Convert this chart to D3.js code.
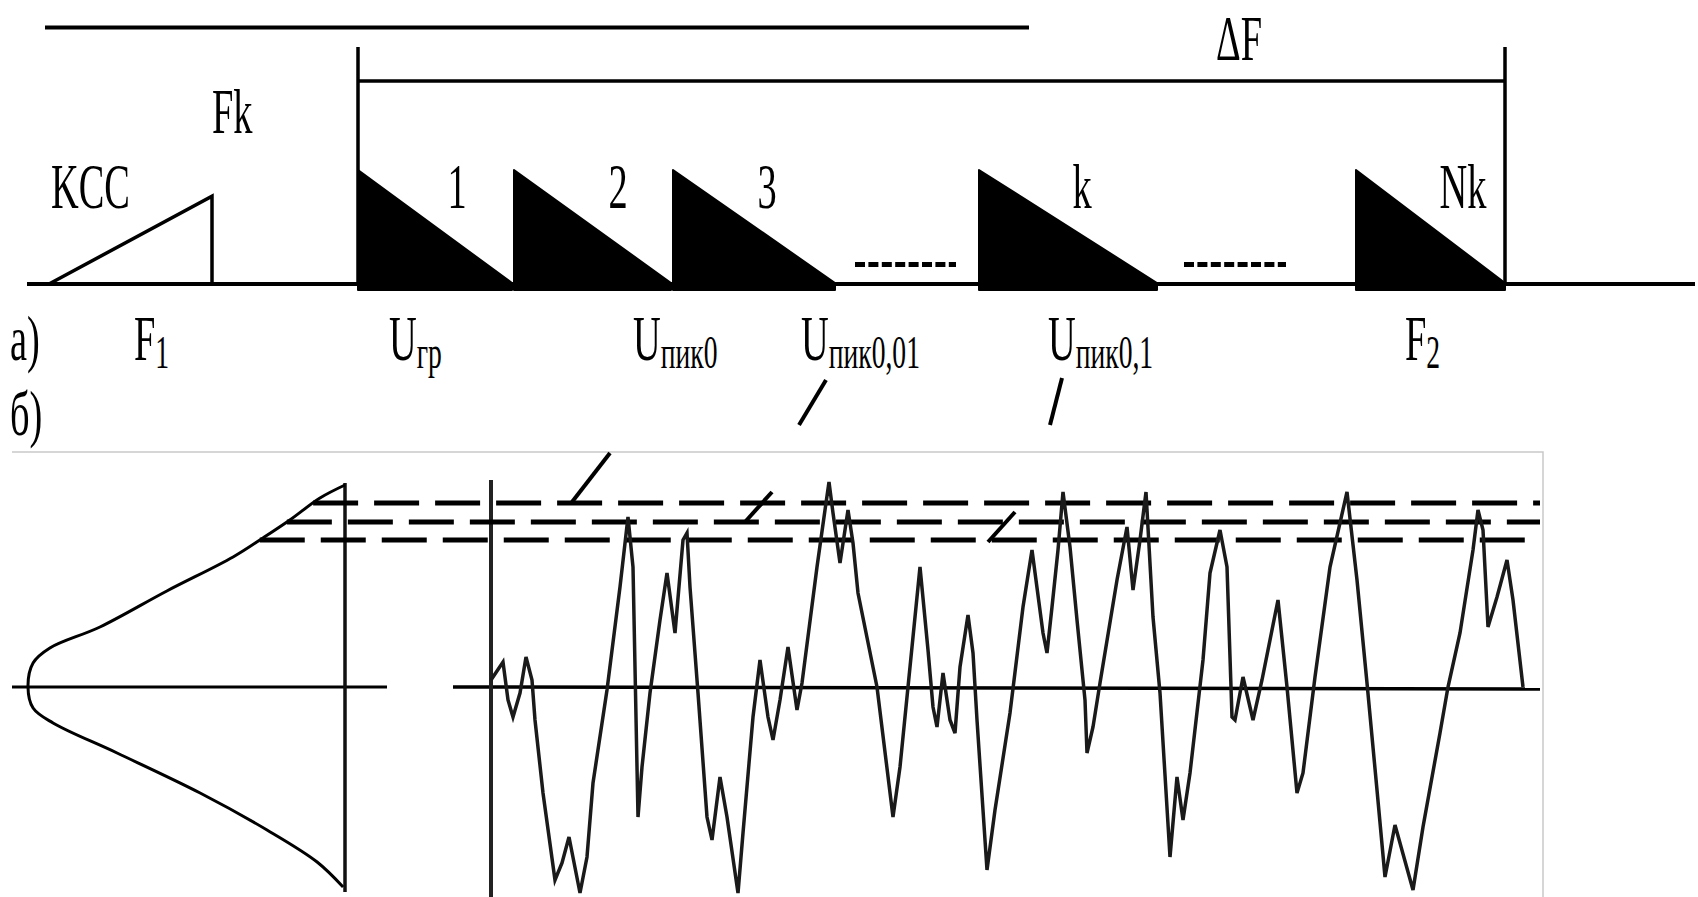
<!DOCTYPE html>
<html><head><meta charset="utf-8">
<script src="https://cdn.jsdelivr.net/npm/d3@7"></script>
<style>html,body{margin:0;padding:0;background:#fff;} svg{display:block;}</style>
</head><body>
<svg id="chart" width="1698" height="897"></svg>
<script>
// ================= DATA =================
// Panel a) : spectrum along the frequency axis (frequency units)
const freqSpan = [0, 1668];
const kccStart = 22, kccEnd = 185, kccLevel = 77;
const topLineSpan = [18, 1002], topLineLevel = 225;
const bandSpan = [331, 1478], bandTickLevel = 208, bandBarLevel = 178;
const channelNames = ["1", "2", "3", "k", "Nk"];
const channelStart = [331, 487, 646, 952, 1329];
const channelEnd   = [485, 644, 808, 1130, 1478];
const channelLevel = 100;
const gapDots = [[828, 929], [1157, 1259]];
const gapLevel = 17;
const rowMain = ["F", "U", "U", "U", "U", "F"];
const rowSub  = ["1", "гр", "пик0", "пик0,01", "пик0,1", "2"];

// Panel b) : random signal (time units, amplitude units)
const waveT = [0,12,17,22,29,35,41,44,52,64,71,78,89,96,102,116,129,137,142,146,147,151,159,169,176,184,192,196,199,207,216,221,229,236,247,252,262,269,277,282,289,297,306,311,326,334,338,342,349,357,362,367,386,402,409,419,429,437,442,446,452,459,464,469,477,482,486,496,504,519,532,541,552,556,561,567,572,579,586,594,596,602,609,626,636,642,649,655,662,669,679,686,692,699,712,719,729,736,741,744,752,762,771,787,796,806,812,824,839,856,866,876,886,894,904,922,932,949,957,969,982,987,992,997,1006,1016,1022,1032];
const waveV = [7,25,-13,-30,-6,30,7,-33,-106,-193,-176,-150,-206,-170,-96,-3,100,170,120,-80,-130,-80,-6,67,114,54,147,154,100,-6,-130,-153,-90,-130,-206,-146,-30,27,-30,-53,-13,40,-23,4,120,177,205,174,124,177,144,94,0,-130,-80,20,120,37,-20,-40,14,-33,-46,20,72,34,-33,-183,-123,-26,80,137,54,34,80,137,195,140,67,-13,-66,-40,4,107,160,97,147,195,70,-6,-170,-90,-133,-86,27,114,157,120,-30,-33,10,-33,7,87,0,-106,-86,10,120,195,107,4,-103,-190,-138,-203,-140,-46,0,54,137,177,157,60,90,127,87,0];
// Peak thresholds (amplitude units)
const thresholds = [184, 165, 147];
// Distribution curve on the left (probability, amplitude)
const distP = [0, 0.079, 0.174, 0.259, 0.353, 0.562, 0.773, 0.931, 0.984, 1.0, 0.984, 0.921, 0.719, 0.457, 0.246, 0.088, 0.006];
const distV = [202, 189, 167, 149, 130, 96, 60, 39, 24, 0, -21, -36, -66, -106, -143, -175, -200];
// Leader strokes (time, amplitude) pairs
const leaderFrom = [[335, 307], [571, 309], [119, 234], [281, 195], [524, 175]];
const leaderTo   = [[308, 262], [559, 262], [81, 185], [254, 165], [497, 145]];

// ================= DRAWING =================
const svg = d3.select("#chart");
svg.append("rect").attr("width", 1698).attr("height", 897).attr("fill", "#fff");

const FONT = "'Liberation Serif','Times New Roman',serif";
const SX = 0.6;

// ---- Panel a ----
const xF = d3.scaleLinear().domain(freqSpan).range([27, 1695]);
const yF = d3.scaleLinear().domain([0, 100]).range([284, 170]);
const gA = svg.append("g");

gA.append("line").attr("x1", xF(freqSpan[0])).attr("x2", xF(freqSpan[1]))
  .attr("y1", yF(0)).attr("y2", yF(0)).attr("stroke", "#000").attr("stroke-width", 4);
gA.append("line").attr("x1", xF(topLineSpan[0])).attr("x2", xF(topLineSpan[1]))
  .attr("y1", yF(topLineLevel)).attr("y2", yF(topLineLevel)).attr("stroke", "#000").attr("stroke-width", 4);

// bracket
gA.append("path").attr("fill", "none").attr("stroke", "#000").attr("stroke-width", 3.5)
  .attr("d", `M${xF(bandSpan[0])},${yF(bandTickLevel)}V${yF(0)}` +
             `M${xF(bandSpan[1])},${yF(bandTickLevel)}V${yF(0)}` +
             `M${xF(bandSpan[0])},${yF(bandBarLevel)}H${xF(bandSpan[1])}`);

// KCC triangle
gA.append("path").attr("fill", "none").attr("stroke", "#000").attr("stroke-width", 3.5)
  .attr("stroke-linejoin", "miter")
  .attr("d", `M${xF(kccStart)},${yF(0)}L${xF(kccEnd)},${yF(kccLevel)}V${yF(0)}`);

// channel triangles
channelStart.forEach((s, i) => {
  const e = channelEnd[i];
  gA.append("path").attr("fill", "#000").attr("stroke", "#000").attr("stroke-width", 2)
    .attr("stroke-linejoin", "round")
    .attr("d", `M${xF(s)},${yF(0) + 6}V${yF(channelLevel)}L${xF(e)},${yF(0) - 1}V${yF(0) + 6}Z`);
});

// gap dots
gapDots.forEach(([a, b]) => {
  gA.append("line").attr("x1", xF(a)).attr("x2", xF(b)).attr("y1", yF(gapLevel)).attr("y2", yF(gapLevel))
    .attr("stroke", "#000").attr("stroke-width", 5).attr("stroke-dasharray", "10,3.4");
});

function label(g, x, y, txt, anchor) {
  g.append("text").attr("transform", `translate(${x},${y}) scale(${SX},1)`)
    .attr("font-family", FONT).attr("font-size", 64).attr("text-anchor", anchor || "start")
    .attr("fill", "#000").text(txt);
}
label(gA, 1216, 60, "ΔF");
label(gA, 212, 133, "Fk");
label(gA, 51, 208, "KCC");
const chanLabelX = [457, 618, 767, 1082, 1463];
channelNames.forEach((n, i) => label(gA, chanLabelX[i], 208, n, "middle"));

label(gA, 10, 360, "a)");
label(gA, 10, 435, "б)");
const rowX = [134, 389, 633, 801, 1048, 1405];
rowMain.forEach((m, i) => {
  const t = gA.append("text").attr("transform", `translate(${rowX[i]},360) scale(${SX},1)`)
    .attr("font-family", FONT).attr("font-size", 64).attr("fill", "#000");
  t.append("tspan").text(m);
  t.append("tspan").attr("font-size", 46).attr("dy", 8).text(rowSub[i]);
});

// ---- Panel b ----
const xW = d3.scaleLinear().domain([0, 1040]).range([491, 1531]);
const yW = d3.scaleLinear().domain([-210, 210]).range([897, 477]);
const xL = d3.scaleLinear().domain([0, 1]).range([345, 28]);
const gB = svg.append("g");

// photo frame
gB.append("path").attr("fill", "none").attr("stroke", "#c9c9c9").attr("stroke-width", 1.5)
  .attr("d", "M12,452H1543V897");

// axes
gB.append("line").attr("x1", 12).attr("x2", 387).attr("y1", yW(0)).attr("y2", yW(0))
  .attr("stroke", "#000").attr("stroke-width", 3);
gB.append("line").attr("x1", 453).attr("x2", xW(1049)).attr("y1", yW(0)).attr("y2", yW(-2))
  .attr("stroke", "#000").attr("stroke-width", 3.5);
gB.append("line").attr("x1", xL(0)).attr("x2", xL(0)).attr("y1", yW(204)).attr("y2", yW(-205))
  .attr("stroke", "#111").attr("stroke-width", 3.5);
gB.append("line").attr("x1", xW(0)).attr("x2", xW(0)).attr("y1", yW(207)).attr("y2", yW(-210))
  .attr("stroke", "#222").attr("stroke-width", 4);

// distribution curve
const dist = distP.map((p, i) => [p, distV[i]]);
gB.append("path").datum(dist).attr("fill", "none").attr("stroke", "#000").attr("stroke-width", 3)
  .attr("d", d3.line().x(d => xL(d[0])).y(d => yW(d[1])).curve(d3.curveCatmullRom.alpha(0.5)));

// thresholds: start on the upper branch of the distribution curve
function startP(v) {
  for (let i = 0; i < dist.length - 1; i++) {
    const [p1, v1] = dist[i], [p2, v2] = dist[i + 1];
    if (v1 >= v && v >= v2) return p1 + (v1 - v) / (v1 - v2) * (p2 - p1);
  }
  return 0;
}
thresholds.forEach(v => {
  gB.append("line").attr("x1", xL(startP(v))).attr("x2", xW(1049)).attr("y1", yW(v)).attr("y2", yW(v))
    .attr("stroke", "#000").attr("stroke-width", 5).attr("stroke-dasharray", "45,16");
});

// waveform
const wave = waveT.map((t, i) => [t, waveV[i]]);
gB.append("path").datum(wave).attr("fill", "none").attr("stroke", "#1a1a1a").attr("stroke-width", 3.5)
  .attr("stroke-linejoin", "miter")
  .attr("d", d3.line().x(d => xW(d[0])).y(d => yW(d[1])));

// leaders
leaderFrom.forEach((f, i) => {
  const t = leaderTo[i];
  gB.append("line").attr("x1", xW(f[0])).attr("y1", yW(f[1])).attr("x2", xW(t[0])).attr("y2", yW(t[1]))
    .attr("stroke", "#000").attr("stroke-width", 4);
});
</script>
</body></html>
